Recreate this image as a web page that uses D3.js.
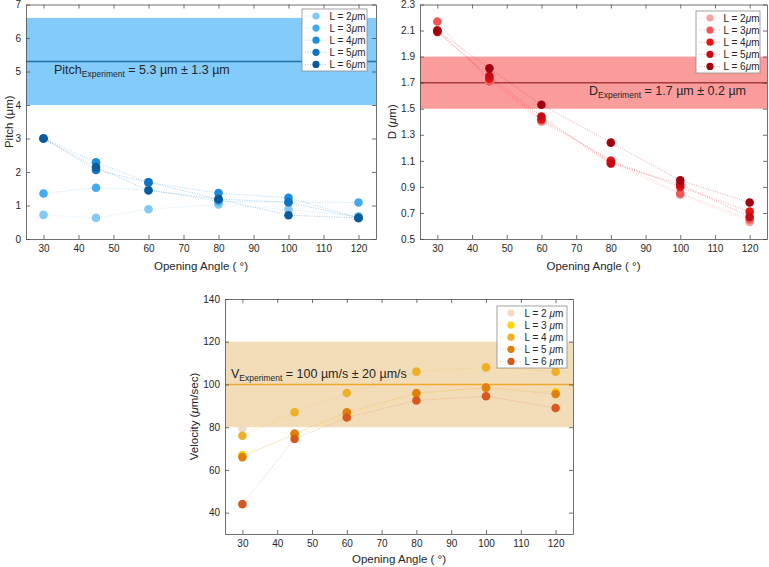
<!DOCTYPE html>
<html>
<head>
<meta charset="utf-8">
<script src="https://cdn.jsdelivr.net/npm/d3@7"></script>
<style>
  body { margin: 0; background: #fff; }
  svg { display: block; font-family: "Liberation Sans", Arial, sans-serif; }
</style>
</head>
<body>
<svg id="chart" width="769" height="567"></svg>
<script>
// ---------- data ----------
const angles = [30, 45, 60, 80, 100, 120];
const angleTicks = [30, 40, 50, 60, 70, 80, 90, 100, 110, 120];
const lengths = [2, 3, 4, 5, 6];

// Pitch (µm) for L = 2..6 µm
const pitchL2 = [0.72, 0.63, 0.89, 1.03, 0.88, 0.68];
const pitchL3 = [1.36, 1.53, 1.47, 1.12, 1.10, 1.09];
const pitchL4 = [3.00, 2.29, 1.69, 1.37, 1.23, 0.63];
const pitchL5 = [3.00, 2.06, 1.69, 1.19, 1.10, 0.63];
const pitchL6 = [3.00, 2.15, 1.45, 1.19, 0.71, 0.63];
const pitchTicks = [0, 1, 2, 3, 4, 5, 6, 7];
const pitchExp = [5.3, 1.3];

// D (µm)
const dL2 = [2.09, 1.70, 1.40, 1.08, 0.84, 0.63];
const dL3 = [2.17, 1.71, 1.41, 1.10, 0.85, 0.65];
const dL4 = [2.10, 1.73, 1.42, 1.10, 0.90, 0.71];
const dL5 = [2.09, 1.75, 1.44, 1.08, 0.92, 0.67];
const dL6 = [2.10, 1.81, 1.53, 1.24, 0.95, 0.78];
const dTicks = [0.5, 0.7, 0.9, 1.1, 1.3, 1.5, 1.7, 1.9, 2.1, 2.3];
const dExp = [1.7, 0.2];

// Velocity (µm/sec)
const vL2 = [79.5, 77, 87, 96, 98.5, 96];
const vL3 = [67, 76, 86, 95.5, 98.5, 96.5];
const vL4 = [76, 87, 96, 106, 108, 106];
const vL5 = [66, 77, 87, 96, 98.5, 95.5];
const vL6 = [44, 74.5, 84.5, 92.5, 94.5, 89];
const vTicks = [40, 60, 80, 100, 120, 140];
const vExp = [100, 20];

// ---------- drawing ----------
const svg = d3.select("#chart");
const AXIS = "#4d4d4d", TEXT = "#262626";

function drawPanel(p) {
  const x = d3.scaleLinear().domain([25, 125]).range([p.x0, p.x1]);
  const y = d3.scaleLinear().domain(p.ydom).range([p.y0, p.y1]);
  const g = svg.append("g");

  // band
  g.append("rect")
    .attr("x", x(25)).attr("width", x(125) - x(25))
    .attr("y", y(p.exp[0] + p.exp[1]))
    .attr("height", y(p.exp[0] - p.exp[1]) - y(p.exp[0] + p.exp[1]))
    .attr("fill", p.bandColor);
  g.append("line")
    .attr("x1", x(25)).attr("x2", x(125))
    .attr("y1", y(p.exp[0])).attr("y2", y(p.exp[0]))
    .attr("stroke", p.lineColor).attr("stroke-width", 1.5);

  // annotation
  const t = g.append("text").attr("x", p.textX).attr("y", p.textY)
    .attr("fill", TEXT).attr("font-size", 12.5);
  t.append("tspan").text(p.textMain);
  t.append("tspan").attr("dy", 3).attr("font-size", 8.5).text("Experiment");
  t.append("tspan").attr("dy", -3).text(p.textRest);

  // series
  const line = d3.line().x((d, i) => x(angles[i])).y(d => y(d));
  p.series.forEach((s, k) => {
    g.append("path").datum(s).attr("d", line)
      .attr("fill", "none").attr("stroke", p.colors[k])
      .attr("stroke-width", 0.7).attr("stroke-dasharray", "1,1.5")
      .attr("opacity", 0.5);
  });
  p.series.forEach((s, k) => {
    g.selectAll(null).data(s).enter().append("circle")
      .attr("cx", (d, i) => x(angles[i])).attr("cy", d => y(d))
      .attr("r", 4.3).attr("fill", p.colors[k]);
  });

  // axes
  const fmt = p.fmt;
  const ax = g.append("g").attr("transform", `translate(0,${p.y0})`)
    .call(d3.axisBottom(x).tickValues(angleTicks).tickSize(-4).tickSizeOuter(0).tickPadding(6));
  const ay = g.append("g").attr("transform", `translate(${p.x0},0)`)
    .call(d3.axisLeft(y).tickValues(p.ticks).tickFormat(fmt).tickSize(-4).tickSizeOuter(0).tickPadding(5));
  const at = g.append("g").attr("transform", `translate(0,${p.y1})`)
    .call(d3.axisTop(x).tickValues(angleTicks).tickSize(-4).tickSizeOuter(0).tickFormat(""));
  const ar = g.append("g").attr("transform", `translate(${p.x1},0)`)
    .call(d3.axisRight(y).tickValues(p.ticks).tickSize(-4).tickSizeOuter(0).tickFormat(""));
  [ax, ay, at, ar].forEach(a => {
    a.selectAll("path,line").attr("stroke", AXIS).attr("stroke-width", 0.8);
    a.selectAll("text").attr("fill", TEXT).attr("font-size", 10)
      .attr("font-family", "Liberation Sans, Arial, sans-serif");
  });

  // axis labels
  g.append("text").attr("x", (p.x0 + p.x1) / 2).attr("y", p.y0 + p.xlabOff)
    .attr("text-anchor", "middle").attr("fill", TEXT).attr("font-size", 11.5)
    .text("Opening Angle ( °)");
  const yl = g.append("text")
    .attr("transform", `translate(${p.ylabX},${(p.y0 + p.y1) / 2}) rotate(-90)`)
    .attr("text-anchor", "middle").attr("fill", TEXT).attr("font-size", 11.5);
  yl.append("tspan").text(p.ylab[0]);
  yl.append("tspan").attr("font-style", p.ylabItalic ? "italic" : "normal").text("μ");
  yl.append("tspan").text(p.ylab[1]);

  // legend
  const lg = g.append("g").attr("transform", `translate(${p.leg[0]},${p.leg[1]})`);
  lg.append("rect").attr("width", p.leg[2]).attr("height", 62)
    .attr("fill", "#fff").attr("stroke", "#8c8c8c").attr("stroke-width", 0.8);
  lengths.forEach((L, k) => {
    const yy = 7 + k * 12.1;
    lg.append("line").attr("x1", 3).attr("x2", 25).attr("y1", yy).attr("y2", yy)
      .attr("stroke", p.colors[k]).attr("stroke-width", 0.7)
      .attr("stroke-dasharray", "1,1.5").attr("opacity", 0.5);
    lg.append("circle").attr("cx", 14).attr("cy", yy).attr("r", 3.6).attr("fill", p.colors[k]);
    const tt = lg.append("text").attr("x", 27.5).attr("y", yy + 3.6)
      .attr("fill", TEXT).attr("font-size", 10);
    tt.append("tspan").text(`L = ${L}${p.legSpace ? " " : ""}`);
    tt.append("tspan").attr("font-style", "italic").text("μ");
    tt.append("tspan").text("m");
  });
}

drawPanel({
  x0: 26, x1: 376, y0: 239, y1: 4.5, ydom: [0, 7], ticks: pitchTicks, fmt: d3.format("d"),
  exp: pitchExp, bandColor: "#82cbfa", lineColor: "#1f6fae",
  textX: 54, textY: 74, textMain: "Pitch", textRest: " = 5.3 µm ± 1.3 µm",
  series: [pitchL2, pitchL3, pitchL4, pitchL5, pitchL6],
  colors: ["#82c9f4", "#45abee", "#1a8ddf", "#1173bf", "#0b5b9b"],
  ylab: ["Pitch (", "m)"], ylabItalic: false, ylabX: 13, xlabOff: 31,
  leg: [302, 9, 65], legSpace: false
});

drawPanel({
  x0: 420, x1: 767, y0: 239, y1: 4.5, ydom: [0.5, 2.3], ticks: dTicks, fmt: d3.format(".1f"),
  exp: dExp, bandColor: "#fa9c9c", lineColor: "#a93a3a",
  textX: 589, textY: 95, textMain: "D", textRest: " = 1.7 µm ± 0.2 µm",
  series: [dL2, dL3, dL4, dL5, dL6],
  colors: ["#f5a3a3", "#f05858", "#e81414", "#c90a14", "#a2000e"],
  ylab: ["D (", "m)"], ylabItalic: true, ylabX: 396, xlabOff: 31,
  leg: [696, 11, 64], legSpace: false
});

drawPanel({
  x0: 225, x1: 573, y0: 534, y1: 299, ydom: [30, 140], ticks: vTicks, fmt: d3.format("d"),
  exp: vExp, bandColor: "#f3ddb9", lineColor: "#f0a92a",
  textX: 231, textY: 378, textMain: "V", textRest: " = 100 µm/s ± 20 µm/s",
  series: [vL2, vL3, vL4, vL5, vL6],
  colors: ["#eedcc6", "#ffd400", "#eeb026", "#df7f0e", "#d6581f"],
  ylab: ["Velocity (", "m/sec)"], ylabItalic: true, ylabX: 198, xlabOff: 29,
  leg: [497, 306, 70], legSpace: true
});
</script>
</body>
</html>
